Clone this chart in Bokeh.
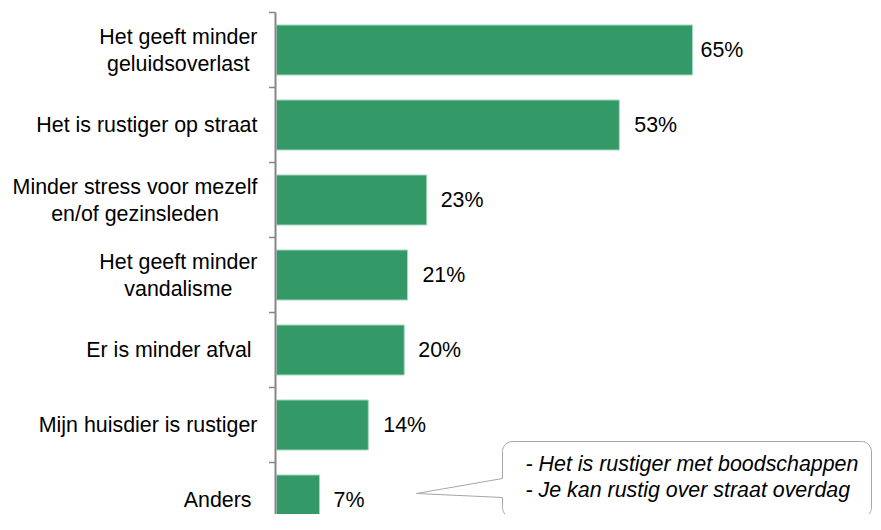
import math
from bokeh.plotting import figure
from bokeh.models import Range1d, ColumnDataSource
from bokeh.core.properties import value
from bokeh.embed import file_html
from bokeh.resources import INLINE

# ---------------- data ----------------
categories = [
    "Het geeft minder\ngeluidsoverlast",
    "Het is rustiger op straat",
    "Minder stress voor mezelf\nen/of gezinsleden",
    "Het geeft minder\nvandalisme",
    "Er is minder afval ",
    "Mijn huisdier is rustiger",
    "Anders ",
]
percentages = [64.8, 53.4, 23.4, 20.4, 19.9, 14.3, 6.7]
value_labels = ["65%", "53%", "23%", "21%", "20%", "14%", "7%"]
callout_lines = ["- Het is rustiger met boodschappen",
                 "- Je kan rustig over straat overdag"]

# ---------------- layout / style ----------------
W, H = 873, 514
PX_PER_PCT = 6.42
ZERO_PX = 276.0          # canvas x of 0 %
ROW_PX = 75.0
FIRST_CENTER_PX = 49.5   # canvas y of first category centre
FONT = "Liberation Sans"
FS = 21.4
BAR_GREEN = "#339966"
AXIS_GREY = "#868686"
label_gaps = [8, 15, 14, 15, 14, 15, 14]

# Helvetica / Arial advance widths (per 1000 em)
AW = {' ': 278, '%': 889, '-': 333, '/': 278}
AW.update({d: 556 for d in "0123456789"})
AW.update(dict(zip("ABCDEFGHIJKLMNOPQRSTUVWXYZ",
                   [667, 667, 722, 722, 667, 611, 778, 722, 278, 500, 667, 556, 833,
                    722, 778, 667, 778, 722, 667, 611, 722, 667, 944, 667, 667, 611])))
AW.update(dict(zip("abcdefghijklmnopqrstuvwxyz",
                   [556, 556, 500, 556, 556, 278, 556, 556, 222, 222, 500, 222, 833,
                    556, 556, 556, 556, 333, 500, 278, 556, 500, 722, 500, 500, 500])))


def text_w(s):
    return sum(AW.get(c, 556) for c in s) * FS / 1000.0


def dx(px):
    return (px - ZERO_PX) / PX_PER_PCT


def dy(py):
    return (py - FIRST_CENTER_PX) / ROW_PX


p = figure(width=W, height=H,
           x_range=Range1d(-ZERO_PX / PX_PER_PCT, (W - ZERO_PX) / PX_PER_PCT),
           y_range=Range1d((H - FIRST_CENTER_PX) / ROW_PX, -FIRST_CENTER_PX / ROW_PX),
           output_backend="svg", toolbar_location=None,
           x_axis_type=None, y_axis_type=None, min_border=0,
           outline_line_color=None, background_fill_color="white")

idx = list(range(len(categories)))

# bars
p.hbar(y=idx, left=0, right=percentages, height=50 / ROW_PX,
       fill_color=BAR_GREEN, line_color="#a3d9bd", line_width=1)

# axis line + ticks at category boundaries
p.segment(x0=[dx(275)], x1=[dx(275)], y0=[-0.5], y1=[dy(540)],
          line_color=AXIS_GREY, line_width=2)
bounds = [k - 0.5 for k in idx]
p.segment(x0=[dx(268.5)] * len(bounds), x1=[dx(275)] * len(bounds),
          y0=bounds, y1=bounds, line_color=AXIS_GREY, line_width=1.5)

# value labels
p.text(x=percentages, y=idx, text=value_labels, x_offset=label_gaps,
       text_font=value(FONT), text_font_size=f"{FS}px", text_color="black",
       text_align="left", text_baseline="middle")

# category labels (lines centred inside a right-aligned block)
lx, ly, lt, lxo, lyo = [], [], [], [], []
for k, cat in enumerate(categories):
    lines = cat.split("\n")
    maxw = max(text_w(s) for s in lines)
    centre = -19 - maxw / 2.0
    n = len(lines)
    for j, s in enumerate(lines):
        lx.append(0)
        ly.append(k)
        lt.append(s)
        lxo.append(centre)
        lyo.append((j - (n - 1) / 2.0) * 27)
src = ColumnDataSource(dict(x=lx, y=ly, text=lt, xo=lxo, yo=lyo))
p.text(x="x", y="y", text="text", x_offset="xo", y_offset="yo", source=src,
       text_font=value(FONT), text_font_size=f"{FS}px", text_color="black",
       text_align="center", text_baseline="middle")

# callout box (pixel geometry)
L, R, T, B, r = 502, 871, 441, 517, 10
pts = []


def arc(cx, cy, a0, a1, n=8):
    for i in range(n + 1):
        a = math.radians(a0 + (a1 - a0) * i / n)
        pts.append((cx + r * math.cos(a), cy + r * math.sin(a)))


arc(L + r, T + r, 180, 270)
arc(R - r, T + r, 270, 360)
arc(R - r, B - r, 0, 90)
arc(L + r, B - r, 90, 180)
pts += [(L, 497), (416, 493), (L, 478)]
p.patch(x=[dx(a) for a, b in pts], y=[dy(b) for a, b in pts],
        fill_color="white", line_color="#a6a6a6", line_width=1)

p.text(x=[dx(525)] * 2, y=[dy(463), dy(489)], text=callout_lines,
       text_font=value(FONT), text_font_size=f"{FS}px", text_font_style="italic",
       text_color="black", text_align="left", text_baseline="middle")

open("out.html", "w").write(file_html(p, INLINE))
